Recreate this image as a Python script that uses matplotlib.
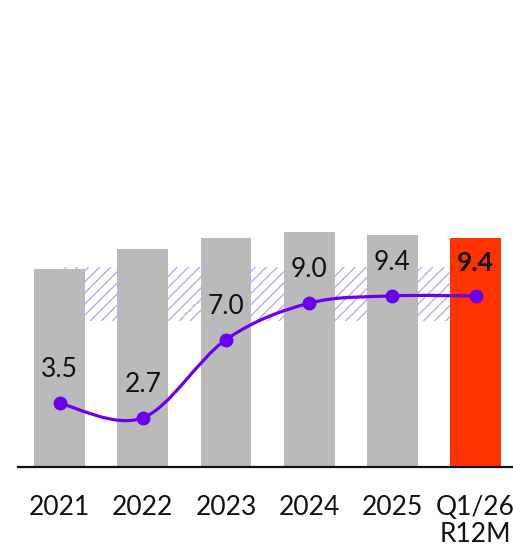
import numpy as np
import matplotlib
matplotlib.use("Agg")
import matplotlib.pyplot as plt
from matplotlib.path import Path
from matplotlib.patches import PathPatch

plt.rcParams['font.family'] = ['Lato', 'DejaVu Sans']
plt.rcParams['hatch.linewidth'] = 1.0
plt.rcParams['hatch.color'] = '#c0a8f8'

labels = ['2021', '2022', '2023', '2024', '2025', 'Q1/26\nR12M']
bar_values = [10.9, 12.0, 12.6, 12.9, 12.75, 12.6]
line_values = [3.5, 2.7, 7.0, 9.0, 9.4, 9.4]
target_low, target_high = 8.0, 11.0

bar_colors = ['#bababa'] * 5 + ['#ff3300']
line_color = '#6a00ee'

fig = plt.figure(figsize=(5.13, 5.49), dpi=100)
ax = fig.add_axes([18 / 513, 82 / 549, 495 / 513, 467 / 549])

x = np.arange(len(labels))

# target corridor behind the bars
ax.fill_between([x[0], x[-1]], target_low, target_high, facecolor='none',
                edgecolor='#c0a8f8', hatch='///', linewidth=0, zorder=1)

ax.bar(x, bar_values, width=0.61, color=bar_colors, zorder=2)

# smooth line through the points (Catmull-Rom as cubic Bezier segments)
pts = np.column_stack([x, line_values]).astype(float)
ext = np.vstack([pts[0], pts, pts[-1]])
verts = [tuple(pts[0])]
codes = [Path.MOVETO]
for i in range(1, len(ext) - 2):
    p0, p1, p2, p3 = ext[i - 1], ext[i], ext[i + 1], ext[i + 2]
    c1 = p1 + (p2 - p0) / 6
    c2 = p2 - (p3 - p1) / 6
    verts += [tuple(c1), tuple(c2), tuple(p2)]
    codes += [Path.CURVE4] * 3
ax.add_patch(PathPatch(Path(verts, codes), facecolor='none',
                       edgecolor=line_color, linewidth=2.3, zorder=3,
                       capstyle='round'))
ax.plot(x, line_values, 'o', color=line_color, markersize=9, zorder=4)

for i, v in enumerate(line_values):
    ax.annotate(f'{v:.1f}', (x[i], v), xytext=(0, 24), textcoords='offset points',
                ha='center', va='center', fontsize=19, color='#111111',
                fontweight='bold' if i == len(line_values) - 1 else 'normal',
                zorder=5)

ax.set_xlim(-0.5, 5.45)
ax.set_ylim(0, 467 / 18.2)
ax.set_xticks(x)
ax.set_xticklabels(labels, fontsize=19, color='#111111', linespacing=1.12)
ax.tick_params(axis='x', length=0, pad=20)
ax.set_yticks([])
for s in ['top', 'left', 'right']:
    ax.spines[s].set_visible(False)
ax.spines['bottom'].set_linewidth(1.6)
ax.spines['bottom'].set_color('#111111')

fig.savefig('out.png', dpi=100, facecolor='white')
